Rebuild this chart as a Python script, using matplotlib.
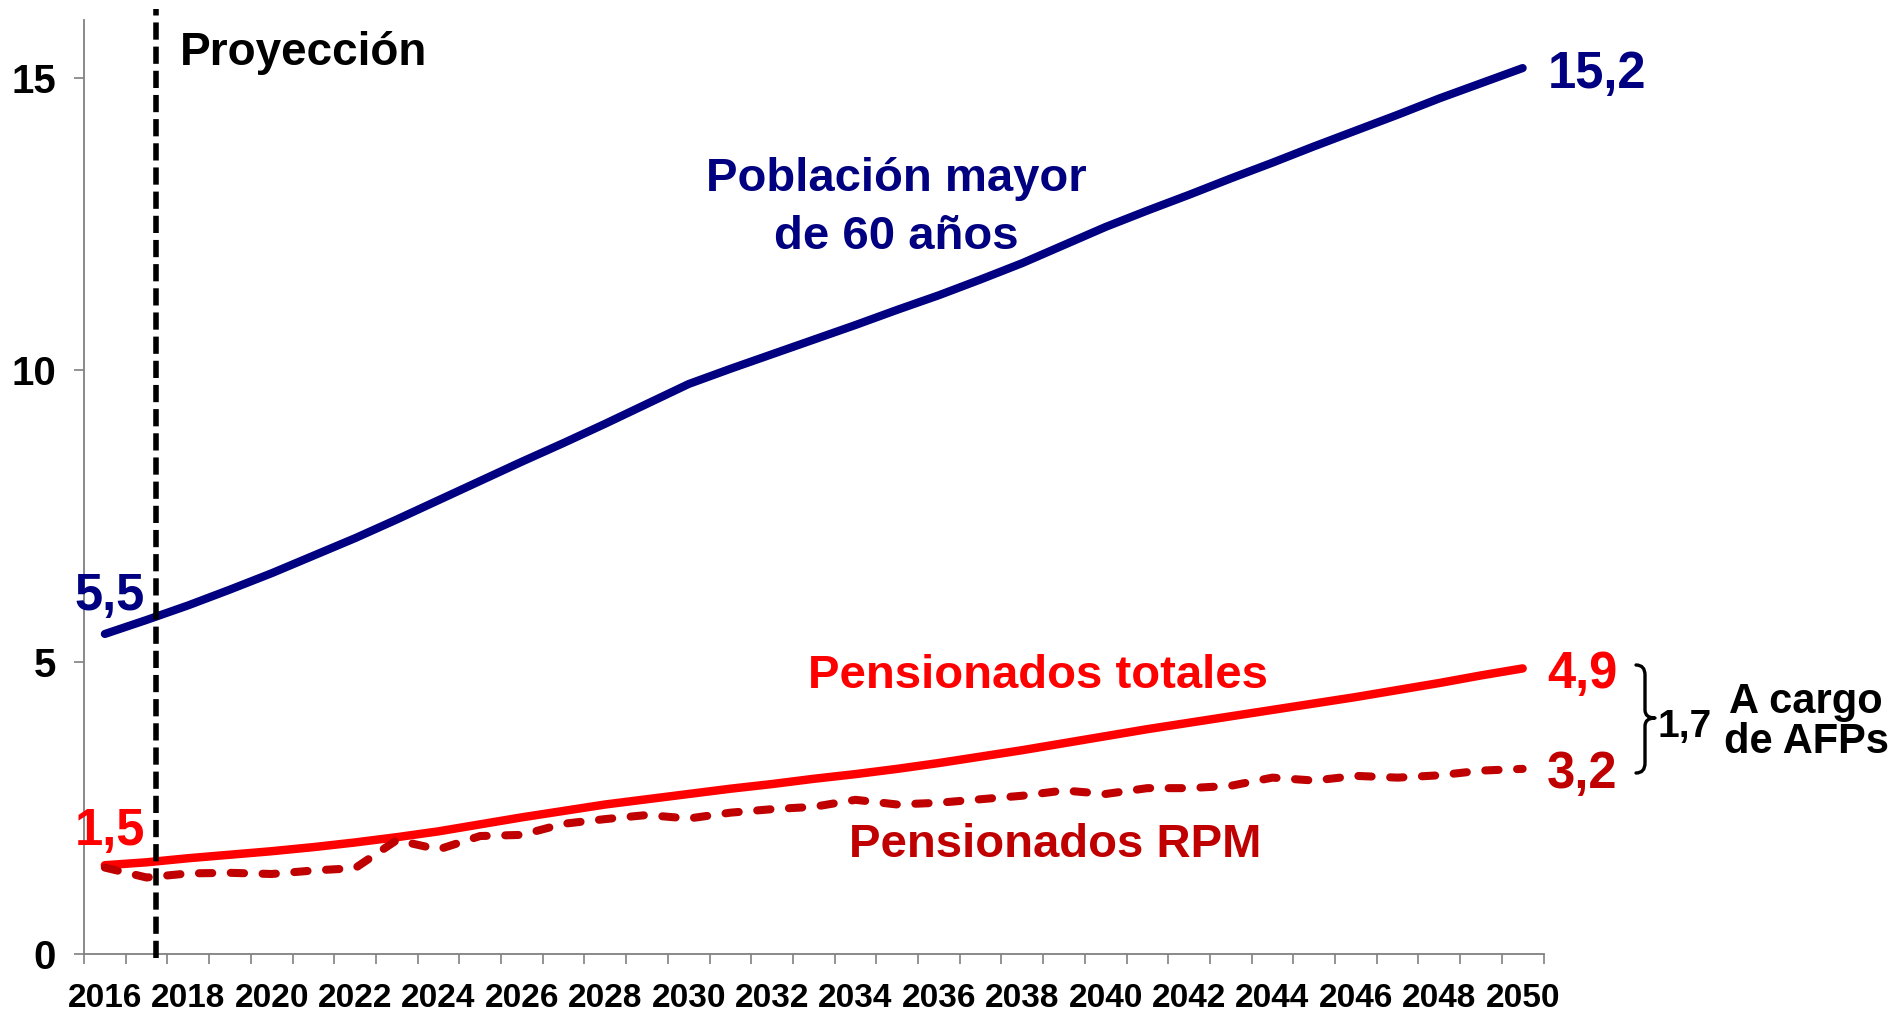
import matplotlib
matplotlib.use("Agg")
import matplotlib.pyplot as plt
from matplotlib.path import Path
from matplotlib.patches import PathPatch
from matplotlib import font_manager

# ---------------- data ----------------
years = list(range(2016, 2051))
poblacion_60 = [5.48, 5.72, 5.97, 6.24, 6.52, 6.82, 7.12, 7.44, 7.77, 8.10,
                8.43, 8.75, 9.08, 9.42, 9.76, 10.02, 10.27, 10.52, 10.77, 11.03,
                11.28, 11.55, 11.83, 12.14, 12.45, 12.73, 13.00, 13.28, 13.55, 13.83,
                14.10, 14.37, 14.65, 14.91, 15.17]
pens_totales = [1.52, 1.57, 1.64, 1.70, 1.76, 1.83, 1.91, 2.00, 2.10, 2.22,
                2.34, 2.45, 2.56, 2.65, 2.74, 2.83, 2.91, 3.00, 3.08, 3.17,
                3.27, 3.38, 3.49, 3.61, 3.73, 3.85, 3.96, 4.07, 4.18, 4.29,
                4.40, 4.52, 4.64, 4.77, 4.89]
pens_rpm = [1.48, 1.31, 1.38, 1.39, 1.37, 1.43, 1.47, 1.95, 1.79, 2.02,
            2.04, 2.23, 2.31, 2.38, 2.32, 2.42, 2.48, 2.52, 2.64, 2.56,
            2.59, 2.65, 2.71, 2.80, 2.74, 2.84, 2.84, 2.88, 3.02, 2.97,
            3.05, 3.02, 3.06, 3.14, 3.17]
xtick_years = list(range(2016, 2051, 2))
ytick_vals = [0, 5, 10, 15]
proyeccion_start = 2017.22

NAVY = "#000080"
RED = "#FF0000"
DARKRED = "#C00000"
GRAY = "#808080"

plt.rcParams['font.family'] = ['Liberation Sans', 'DejaVu Sans']
plt.rcParams['font.weight'] = 'bold'

installed = {f.name for f in font_manager.fontManager.ttflist}
if 'Liberation Sans Narrow' in installed:
    xlab_family, xlab_size = ['Liberation Sans Narrow', 'Liberation Sans'], 27
else:
    xlab_family, xlab_size = ['Liberation Sans', 'DejaVu Sans'], 24

W, H = 1899, 1014
fig = plt.figure(figsize=(W / 100, H / 100), dpi=100)
ax = fig.add_axes([84 / W, 60 / H, 1459.5 / W, 934.4 / H])

ax.set_xlim(2015.5, 2050.5)
ax.set_ylim(0, 16)


def px2x(px):
    return 2015.5 + (px - 84) / 41.7


def py2y(py):
    return (954 - py) / 58.4


def fmt(v):
    return f"{v:.1f}".replace(".", ",")


# lines
ax.plot(years, poblacion_60, color=NAVY, lw=5.9, solid_capstyle='round',
        solid_joinstyle='round', zorder=3)
ax.plot(years, pens_totales, color=RED, lw=6.1, solid_capstyle='round',
        solid_joinstyle='round', zorder=3)
ax.plot(years, pens_rpm, color=DARKRED, lw=5.8, dashes=(1.65, 2.3),
        dash_capstyle='round', dash_joinstyle='round', zorder=3)

# projection line
ax.axvline(proyeccion_start, ymin=-0.004, ymax=1.011, color='black', lw=4.0,
           dashes=(3.1, 1.25), clip_on=False, zorder=5)

# spines / ticks
for s in ['top', 'right']:
    ax.spines[s].set_visible(False)
for s in ['left', 'bottom']:
    ax.spines[s].set_color(GRAY)
    ax.spines[s].set_linewidth(1.3)

ax.set_yticks(ytick_vals)
ax.set_yticklabels([str(v) for v in ytick_vals])
ax.tick_params(axis='y', direction='out', length=7.2, width=1.2, color=GRAY,
               labelsize=29, pad=13)

ax.set_xticks(xtick_years)
ax.set_xticklabels([str(y) for y in xtick_years])
ax.set_xticks([y - 0.5 for y in years] + [years[-1] + 0.5], minor=True)
ax.tick_params(axis='x', which='major', length=0, labelsize=xlab_size, pad=21)
ax.tick_params(axis='x', which='minor', direction='out', length=7.2, width=1.2,
               color=GRAY)
for lab in ax.get_yticklabels():
    lab.set_fontweight('bold')
for lab in ax.get_xticklabels():
    lab.set_fontweight('bold')
    lab.set_family(xlab_family)

# annotations
ax.text(px2x(180), py2y(65), "Proyección", fontsize=33, fontweight='bold',
        color='black', ha='left', va='baseline')
ax.text(px2x(896), py2y(191), "Población mayor", fontsize=34, fontweight='bold',
        color=NAVY, ha='center', va='baseline')
ax.text(px2x(896), py2y(249), "de 60 años", fontsize=34, fontweight='bold',
        color=NAVY, ha='center', va='baseline')
ax.text(px2x(1037.5), py2y(688), "Pensionados totales", fontsize=34,
        fontweight='bold', color=RED, ha='center', va='baseline')
ax.text(px2x(1055), py2y(857), "Pensionados RPM", fontsize=34,
        fontweight='bold', color=DARKRED, ha='center', va='baseline')

NUM = 36.5
ax.text(px2x(1548), py2y(88), fmt(poblacion_60[-1]), fontsize=NUM,
        fontweight='bold', color=NAVY, ha='left', va='baseline')
ax.text(px2x(145), py2y(610), fmt(poblacion_60[0]), fontsize=NUM,
        fontweight='bold', color=NAVY, ha='right', va='baseline')
ax.text(px2x(145), py2y(845), fmt(pens_totales[0]), fontsize=NUM,
        fontweight='bold', color=RED, ha='right', va='baseline')
ax.text(px2x(1547), py2y(688), fmt(pens_totales[-1]), fontsize=NUM,
        fontweight='bold', color=RED, ha='left', va='baseline')
ax.text(px2x(1547), py2y(788), fmt(pens_rpm[-1]), fontsize=NUM,
        fontweight='bold', color=DARKRED, ha='left', va='baseline')

# brace
bx0, bx1, bx2 = px2x(1636), px2x(1645), px2x(1655)
yt, ym, yb = py2y(665), py2y(718), py2y(773)
d = py2y(665) - py2y(675)
verts = [(bx0, yt), (bx1, yt), (bx1, yt - d),
         (bx1, ym + d * 0.8),
         (bx1, ym), (bx2, ym), (bx2, ym),
         (bx1, ym), (bx1, ym - d * 0.8), (bx1, ym - d * 0.8),
         (bx1, yb + d),
         (bx1, yb), (bx0, yb)]
codes = [Path.MOVETO, Path.CURVE3, Path.CURVE3,
         Path.LINETO,
         Path.CURVE3, Path.CURVE3, Path.LINETO,
         Path.CURVE3, Path.CURVE3, Path.LINETO,
         Path.LINETO,
         Path.CURVE3, Path.CURVE3]
brace = PathPatch(Path(verts, codes), facecolor='none', edgecolor='black',
                  lw=2.4, clip_on=False, capstyle='round', joinstyle='round')
ax.add_patch(brace)

ax.text(px2x(1657), py2y(737), fmt(pens_totales[-1] - pens_rpm[-1]), fontsize=28,
        fontweight='bold', color='black', ha='left', va='baseline')
ax.text(px2x(1806), py2y(713), "A cargo", fontsize=30, fontweight='bold',
        color='black', ha='center', va='baseline')
ax.text(px2x(1806), py2y(753), "de AFPs", fontsize=30, fontweight='bold',
        color='black', ha='center', va='baseline')

fig.savefig("out.png", dpi=100, facecolor='white')
